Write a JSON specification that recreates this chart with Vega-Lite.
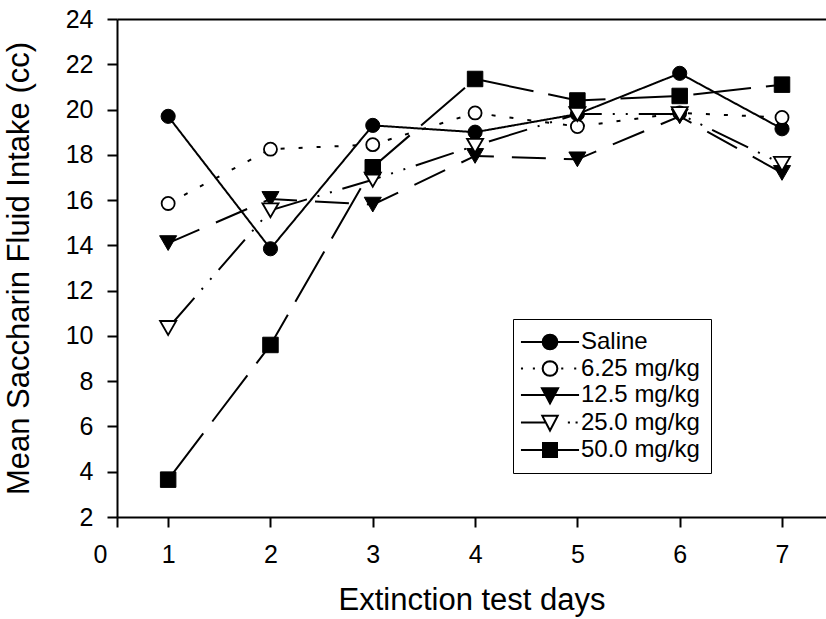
{
  "$schema": "https://vega.github.io/schema/vega-lite/v6.json",
  "autosize": {"type": "none"},
  "padding": {"left": 117, "top": 19, "right": 0, "bottom": 102},
  "width": 709,
  "height": 498,
  "background": "white",
  "config": {
    "font": "Liberation Sans",
    "view": {"stroke": null},
    "axis": {"domainColor": "black", "domainWidth": 2, "tickColor": "black", "tickWidth": 2, "tickSize": 10, "labelColor": "black", "titleColor": "black", "labelFontSize": 25, "titleFontSize": 31, "titleFontWeight": "normal", "grid": false}
  },
  "data": {"values": [
    {"day": 1, "value": 19.7, "series": "Saline"},
    {"day": 2, "value": 13.85, "series": "Saline"},
    {"day": 3, "value": 19.3, "series": "Saline"},
    {"day": 4, "value": 19.0, "series": "Saline"},
    {"day": 5, "value": 19.8, "series": "Saline"},
    {"day": 6, "value": 21.6, "series": "Saline"},
    {"day": 7, "value": 19.15, "series": "Saline"},
    {"day": 1, "value": 15.85, "series": "6.25 mg/kg"},
    {"day": 2, "value": 18.25, "series": "6.25 mg/kg"},
    {"day": 3, "value": 18.45, "series": "6.25 mg/kg"},
    {"day": 4, "value": 19.85, "series": "6.25 mg/kg"},
    {"day": 5, "value": 19.25, "series": "6.25 mg/kg"},
    {"day": 6, "value": 19.85, "series": "6.25 mg/kg"},
    {"day": 7, "value": 19.65, "series": "6.25 mg/kg"},
    {"day": 1, "value": 14.1, "series": "12.5 mg/kg"},
    {"day": 2, "value": 16.05, "series": "12.5 mg/kg"},
    {"day": 3, "value": 15.8, "series": "12.5 mg/kg"},
    {"day": 4, "value": 17.95, "series": "12.5 mg/kg"},
    {"day": 5, "value": 17.8, "series": "12.5 mg/kg"},
    {"day": 6, "value": 19.7, "series": "12.5 mg/kg"},
    {"day": 7, "value": 17.2, "series": "12.5 mg/kg"},
    {"day": 1, "value": 10.35, "series": "25.0 mg/kg"},
    {"day": 2, "value": 15.55, "series": "25.0 mg/kg"},
    {"day": 3, "value": 16.9, "series": "25.0 mg/kg"},
    {"day": 4, "value": 18.4, "series": "25.0 mg/kg"},
    {"day": 5, "value": 19.8, "series": "25.0 mg/kg"},
    {"day": 6, "value": 19.8, "series": "25.0 mg/kg"},
    {"day": 7, "value": 17.6, "series": "25.0 mg/kg"},
    {"day": 1, "value": 3.65, "series": "50.0 mg/kg"},
    {"day": 2, "value": 9.6, "series": "50.0 mg/kg"},
    {"day": 3, "value": 17.45, "series": "50.0 mg/kg"},
    {"day": 4, "value": 21.35, "series": "50.0 mg/kg"},
    {"day": 5, "value": 20.4, "series": "50.0 mg/kg"},
    {"day": 6, "value": 20.6, "series": "50.0 mg/kg"},
    {"day": 7, "value": 21.1, "series": "50.0 mg/kg"}
  ]},
  "resolve": {"axis": {"x": "independent"}, "scale": {"shape": "independent", "fill": "independent", "stroke": "independent"}},
  "layer": [
    {
      "mark": {"type": "line", "color": "black", "strokeWidth": 2},
      "encoding": {
        "x": {"field": "day", "type": "quantitative", "scale": {"domain": [0.5, 7.43], "nice": false, "zero": false},
          "axis": {"title": "Extinction test days", "values": [0.5, 1, 2, 3, 4, 5, 6, 7], "labelExpr": "datum.value < 1 ? '0' : datum.label", "labelFlush": false, "labelOverlap": false, "labelPadding": 15, "labelOffset": {"condition": {"test": "datum.value < 1", "value": -17}, "value": 0}, "titlePadding": 18}},
        "y": {"field": "value", "type": "quantitative", "scale": {"domain": [2, 24], "nice": false, "zero": false},
          "axis": {"title": "Mean Saccharin Fluid Intake (cc)", "values": [2, 4, 6, 8, 10, 12, 14, 16, 18, 20, 22, 24], "labelPadding": 14, "labelOverlap": false, "labelFlush": false, "titlePadding": 30}},
        "detail": {"field": "series"},
        "strokeDash": {"field": "series", "type": "nominal", "legend": null,
          "scale": {"domain": ["Saline", "6.25 mg/kg", "12.5 mg/kg", "25.0 mg/kg", "50.0 mg/kg"],
            "range": [[1, 0], [4, 14], [34, 18], [40, 11, 2, 11, 2, 11], [58, 15]]}}
      }
    },
    {
      "transform": [{"filter": "datum.series == 'Saline'"}],
      "mark": {"type": "point", "shape": "circle", "size": 200, "filled": true, "fill": "black", "stroke": "black", "strokeWidth": 1, "opacity": 1},
      "encoding": {
        "x": {"field": "day", "type": "quantitative", "scale": {"domain": [0.5, 7.43], "nice": false, "zero": false}, "axis": {"orient": "top", "labels": false, "ticks": false, "title": null, "domain": true}},
        "y": {"field": "value", "type": "quantitative", "scale": {"domain": [2, 24], "nice": false, "zero": false}}
      }
    },
    {
      "transform": [{"filter": "datum.series == '6.25 mg/kg'"}],
      "mark": {"type": "point", "shape": "circle", "size": 170, "fill": "white", "stroke": "black", "strokeWidth": 1.8, "opacity": 1},
      "encoding": {
        "x": {"field": "day", "type": "quantitative", "scale": {"domain": [0.5, 7.43], "nice": false, "zero": false}, "axis": null},
        "y": {"field": "value", "type": "quantitative", "scale": {"domain": [2, 24], "nice": false, "zero": false}}
      }
    },
    {
      "transform": [{"filter": "datum.series == '12.5 mg/kg'"}],
      "mark": {"type": "point", "shape": "triangle-down", "size": 290, "filled": true, "fill": "black", "stroke": "black", "strokeWidth": 1, "opacity": 1},
      "encoding": {
        "x": {"field": "day", "type": "quantitative", "scale": {"domain": [0.5, 7.43], "nice": false, "zero": false}, "axis": null},
        "y": {"field": "value", "type": "quantitative", "scale": {"domain": [2, 24], "nice": false, "zero": false}}
      }
    },
    {
      "transform": [{"filter": "datum.series == '25.0 mg/kg'"}],
      "mark": {"type": "point", "shape": "triangle-down", "size": 260, "fill": "white", "stroke": "black", "strokeWidth": 1.8, "opacity": 1},
      "encoding": {
        "x": {"field": "day", "type": "quantitative", "scale": {"domain": [0.5, 7.43], "nice": false, "zero": false}, "axis": null},
        "y": {"field": "value", "type": "quantitative", "scale": {"domain": [2, 24], "nice": false, "zero": false}}
      }
    },
    {
      "transform": [{"filter": "datum.series == '50.0 mg/kg'"}],
      "mark": {"type": "point", "shape": "square", "size": 240, "filled": true, "fill": "black", "stroke": "black", "strokeWidth": 1, "opacity": 1},
      "encoding": {
        "x": {"field": "day", "type": "quantitative", "scale": {"domain": [0.5, 7.43], "nice": false, "zero": false}, "axis": null},
        "y": {"field": "value", "type": "quantitative", "scale": {"domain": [2, 24], "nice": false, "zero": false}}
      }
    },
    {
      "transform": [{"filter": "datum.day > 100"}],
      "mark": {"type": "point", "stroke": "black", "strokeWidth": 2, "opacity": 1},
      "encoding": {
        "x": {"field": "day", "type": "quantitative", "scale": {"domain": [0.5, 7.43], "nice": false, "zero": false}, "axis": null},
        "y": {"field": "value", "type": "quantitative", "scale": {"domain": [2, 24], "nice": false, "zero": false}},
        "shape": {"field": "series", "type": "nominal",
          "scale": {"domain": ["Saline", "6.25 mg/kg", "12.5 mg/kg", "25.0 mg/kg", "50.0 mg/kg"],
            "range": [
              "M-4.15,0L4.15,0M1.05,0L0.97,0.402L0.742,0.742L0.402,0.97L0,1.05L-0.402,0.97L-0.742,0.742L-0.97,0.402L-1.05,0L-0.97,-0.402L-0.742,-0.742L-0.402,-0.97L0,-1.05L0.402,-0.97L0.742,-0.742L0.97,-0.402Z",
              "M-4.15,0L-3.85,0M-2.45,0L-2.15,0M1.6,0L1.9,0M3.45,0L3.75,0M1.05,0L0.97,0.402L0.742,0.742L0.402,0.97L0,1.05L-0.402,0.97L-0.742,0.742L-0.97,0.402L-1.05,0L-0.97,-0.402L-0.742,-0.742L-0.402,-0.97L0,-1.05L0.402,-0.97L0.742,-0.742L0.97,-0.402Z",
              "M-4.15,0L4.15,0M-1.15,-0.95L1.15,-0.95L0,1.2Z",
              "M-4.15,0L-0.6,0M2.55,0L2.85,0M3.65,0L3.95,0M-1.1,-0.95L1.1,-0.95L0,1.15Z",
              "M-4.15,0L4.15,0M-1,-1L1,-1L1,1L-1,1Z"
            ]},
          "legend": {"title": null, "orient": "none", "legendX": 396, "legendY": 300, "strokeColor": "black", "padding": 11, "symbolSize": 196, "symbolStrokeWidth": 2, "symbolStrokeColor": "black", "symbolOpacity": 1, "symbolOffset": 14, "labelOffset": 19, "labelFontSize": 24, "labelColor": "black", "rowPadding": 2.5, "labelLimit": 300}},
        "fill": {"field": "series", "type": "nominal",
          "scale": {"domain": ["Saline", "6.25 mg/kg", "12.5 mg/kg", "25.0 mg/kg", "50.0 mg/kg"],
            "range": ["black", "white", "black", "white", "black"]},
          "legend": {"title": null, "orient": "none", "legendX": 396, "legendY": 300, "strokeColor": "black", "padding": 11, "symbolSize": 196, "symbolStrokeWidth": 2, "symbolStrokeColor": "black", "symbolOpacity": 1, "symbolOffset": 14, "labelOffset": 19, "labelFontSize": 24, "labelColor": "black", "rowPadding": 2.5, "labelLimit": 300}},
        "stroke": {"field": "series", "type": "nominal",
          "scale": {"domain": ["Saline", "6.25 mg/kg", "12.5 mg/kg", "25.0 mg/kg", "50.0 mg/kg"],
            "range": ["black", "black", "black", "black", "black"]},
          "legend": {"title": null, "orient": "none", "legendX": 396, "legendY": 300, "strokeColor": "black", "padding": 11, "symbolSize": 196, "symbolStrokeWidth": 2, "symbolStrokeColor": "black", "symbolOpacity": 1, "symbolOffset": 14, "labelOffset": 19, "labelFontSize": 24, "labelColor": "black", "rowPadding": 2.5, "labelLimit": 300}}
      }
    }
  ]
}
